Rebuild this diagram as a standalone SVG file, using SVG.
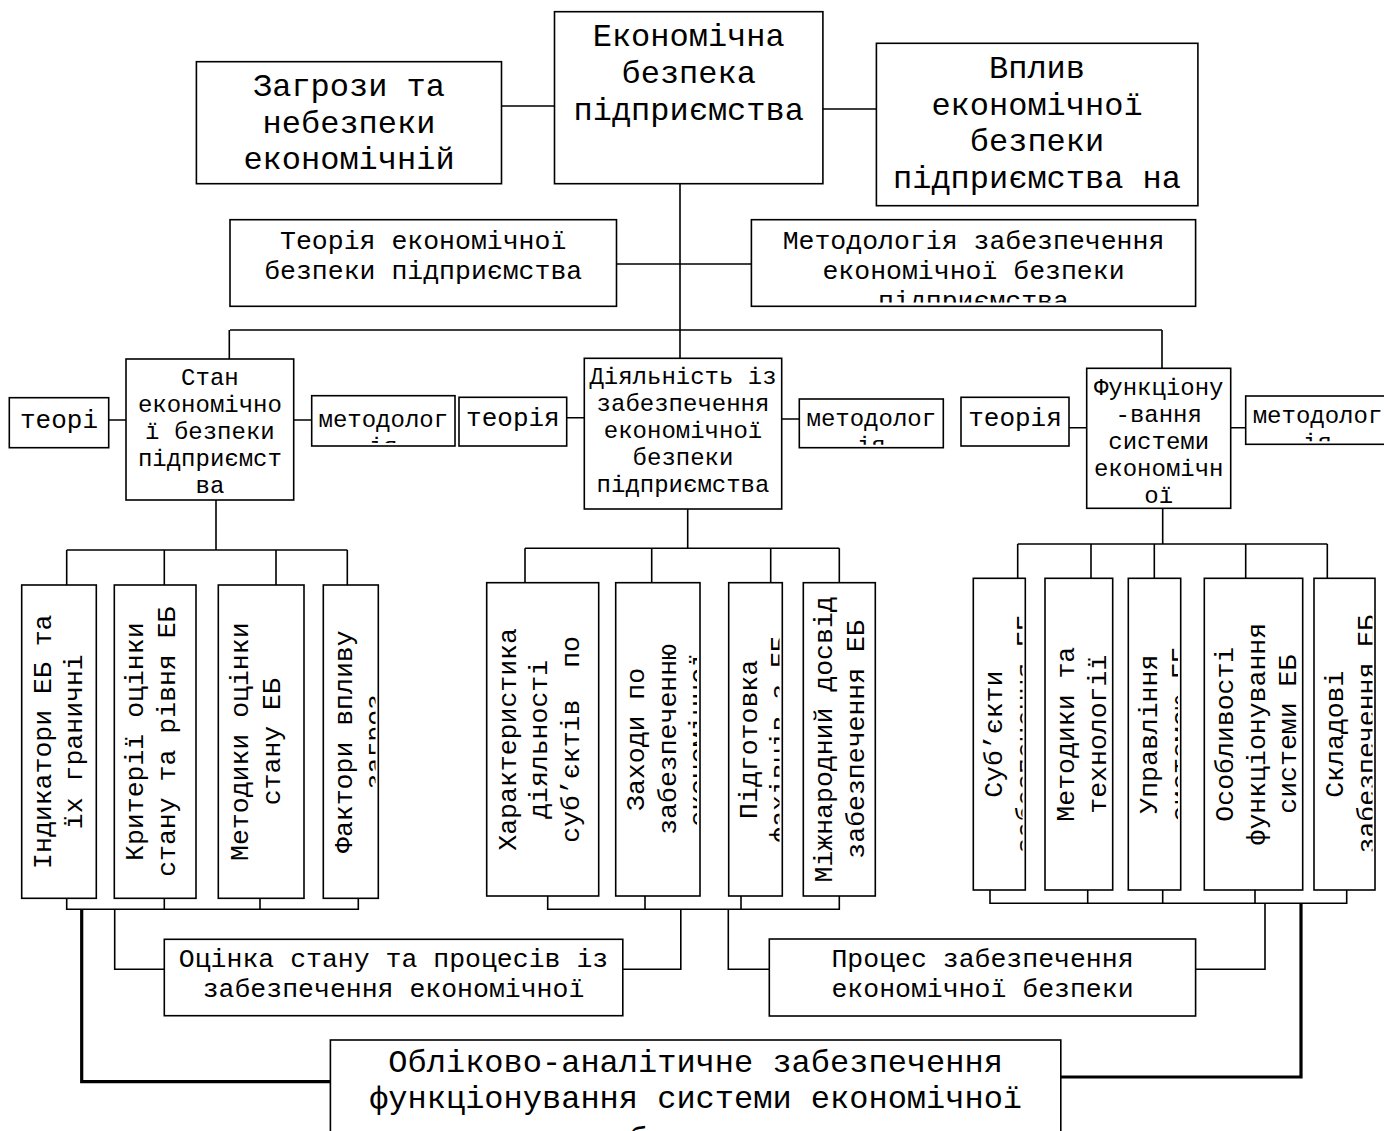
<svg xmlns="http://www.w3.org/2000/svg" width="1384" height="1131" viewBox="0 0 1384 1131">
<style>
.box{fill:#fff;stroke:#000;stroke-width:1.6}
.ln{fill:none;stroke:#000;stroke-width:1.6}
.thick{stroke-width:3.2}
.t{font-family:"Liberation Mono","DejaVu Sans Mono",monospace;fill:#000;text-anchor:middle}
.f32{font-size:32px}
.f26{font-size:26.5px}
.f25{font-size:26px}
.f24{font-size:24px}
</style>
<defs>
<clipPath id="c-method"><rect x="751" y="219" width="445" height="83.5"/></clipPath>
<clipPath id="c-me1"><rect x="311" y="395" width="145" height="48"/></clipPath>
<clipPath id="c-me2"><rect x="799" y="398" width="145" height="46.7"/></clipPath>
<clipPath id="c-me3"><rect x="1245" y="395" width="145" height="46.3"/></clipPath>
<clipPath id="c-b4"><rect x="323" y="585" width="52.5" height="314"/></clipPath>
<clipPath id="c-mb"><rect x="615" y="582" width="82" height="314"/></clipPath>
<clipPath id="c-mc"><rect x="728" y="582" width="51.5" height="314"/></clipPath>
<clipPath id="c-r1"><rect x="973" y="578" width="49.5" height="312"/></clipPath>
<clipPath id="c-r3"><rect x="1128" y="578" width="50" height="312"/></clipPath>
<clipPath id="c-r5"><rect x="1314" y="578" width="58.5" height="312"/></clipPath>
<clipPath id="c-acc"><rect x="330" y="1040" width="731" height="91"/></clipPath>
</defs>

<g id="connectors">
<path class="ln" d="M501.5,106H554.5M822.9,109H876.4M680,183.7V358.3M616.5,264H751.4M230,330H1162M229.3,330V359M1162,330V368.3"/>
<path class="ln" d="M108.7,420H126M293.7,420H311.7M566.7,417.7H584.3M781.7,419H799.3M1069,427.7H1086.7M1230.7,427.7H1245.7"/>
<path class="ln" d="M216,500V550M66.7,550H347.3M66.7,550V585M164.3,550V585M276,550V585M347.3,550V585M66.7,898.3V909.3H358.3V898.3M164.3,898.3V909.3M260,898.3V909.3"/>
<path class="ln" d="M687.7,509V548.3M525,548.3H839.3M525,548.3V582.7M651.7,548.3V582.7M770.7,548.3V582.7M839.3,548.3V582.7M547.7,896V909.3H839.3V896M645,896V909.3M741,896V909.3"/>
<path class="ln" d="M1162.7,508.3V544M1017.7,544H1327.3M1017.7,544V578.3M1091,544V578.3M1154.3,544V578.3M1245.7,544V578.3M1327.3,544V578.3M990,890V903.3H1346.7V890M1087.7,890V903.3M1162.7,890V903.3M1255,890V903.3"/>
<path class="ln" d="M114.7,909.3V969.3H164.3M680.8,909.3V969.3H622.8M728.3,909.3V969.3H769.3M1265,903.3V969.3H1195.6"/>
<path class="ln thick" d="M81.7,909.3V1081.7H330.4M1301,903.3V1077H1060.8"/>
</g>

<g id="n-center">
<rect class="box" x="554.5" y="11.7" width="268.4" height="172"/>
<text class="t f32"><tspan x="688.7" y="45.5">Економічна</tspan><tspan x="688.7" y="82.5">безпека</tspan><tspan x="688.7" y="119.5">підприємства</tspan></text>
</g>
<g id="n-threats">
<rect class="box" x="196.4" y="61.7" width="305.1" height="122"/>
<text class="t f32"><tspan x="349" y="95.5">Загрози та</tspan><tspan x="349" y="132.5">небезпеки</tspan><tspan x="349" y="168.5">економічній</tspan></text>
</g>
<g id="n-impact">
<rect class="box" x="876.4" y="43.3" width="321.5" height="162.4"/>
<text class="t f32"><tspan x="1037" y="77.5">Вплив</tspan><tspan x="1037" y="114.5">економічної</tspan><tspan x="1037" y="150.5">безпеки</tspan><tspan x="1037" y="187.5">підприємства на</tspan></text>
</g>
<g id="n-theory">
<rect class="box" x="230" y="219.7" width="386.5" height="86.6"/>
<text class="t f26"><tspan x="423.2" y="248.5">Теорія економічної</tspan><tspan x="423.2" y="278.5">безпеки підприємства</tspan></text>
</g>
<g id="n-method">
<rect class="box" x="751.4" y="219.7" width="444.2" height="86.6"/>
<g clip-path="url(#c-method)"><text class="t f26"><tspan x="973.5" y="248.5">Методологія забезпечення</tspan><tspan x="973.5" y="278.5">економічної безпеки</tspan><tspan x="973.5" y="308.5">підприємства</tspan></text></g>
</g>

<g id="n-state-theory">
<rect class="box" x="9.3" y="397.7" width="99.4" height="50"/>
<text class="t f25" x="59" y="427.5">теорі</text>
</g>
<g id="n-state">
<rect class="box" x="126" y="359" width="167.7" height="141"/>
<text class="t f24"><tspan x="209.9" y="385">Стан</tspan><tspan x="209.9" y="412">економічно</tspan><tspan x="209.9" y="439">ї безпеки</tspan><tspan x="209.9" y="466">підприємст</tspan><tspan x="209.9" y="493">ва</tspan></text>
</g>
<g id="n-state-method">
<rect class="box" x="311.7" y="395.7" width="143.3" height="50.3"/>
<g clip-path="url(#c-me1)"><text class="t f24"><tspan x="383.3" y="427.3">методолог</tspan><tspan x="383.3" y="454.3">ія</tspan></text></g>
</g>
<g id="n-act-theory">
<rect class="box" x="459" y="397.3" width="107.7" height="48.7"/>
<text class="t f25" x="512.9" y="426">теорія</text>
</g>
<g id="n-act">
<rect class="box" x="584.3" y="358.3" width="197.4" height="150.7"/>
<text class="t f24"><tspan x="683" y="384.3">Діяльність із</tspan><tspan x="683" y="411.3">забезпечення</tspan><tspan x="683" y="438.3">економічної</tspan><tspan x="683" y="465.3">безпеки</tspan><tspan x="683" y="492.3">підприємства</tspan></text>
</g>
<g id="n-act-method">
<rect class="box" x="799.3" y="399" width="144" height="48.7"/>
<g clip-path="url(#c-me2)"><text class="t f24"><tspan x="871.3" y="425.7">методолог</tspan><tspan x="871.3" y="452.7">ія</tspan></text></g>
</g>
<g id="n-func-theory">
<rect class="box" x="961" y="397.3" width="108" height="48.7"/>
<text class="t f25" x="1015" y="426">теорія</text>
</g>
<g id="n-func">
<rect class="box" x="1086.7" y="368.3" width="144" height="140"/>
<text class="t f24"><tspan x="1158.7" y="395">Функціону</tspan><tspan x="1158.7" y="422">-вання</tspan><tspan x="1158.7" y="449">системи</tspan><tspan x="1158.7" y="476">економічн</tspan><tspan x="1158.7" y="503">ої</tspan></text>
</g>
<g id="n-func-method">
<rect class="box" x="1245.7" y="396" width="143.6" height="48.3"/>
<g clip-path="url(#c-me3)"><text class="t f24"><tspan x="1317.5" y="423.3">методолог</tspan><tspan x="1317.5" y="450.3">ія</tspan></text></g>
</g>

<g id="n-indicators">
<rect class="box" x="21.7" y="585" width="74.6" height="313.3"/>
<text class="t f26" transform="translate(50.5,741.7) rotate(-90)"><tspan x="0" y="0">Індикатори ЕБ та</tspan><tspan x="0" y="31.3">їх граничні</tspan></text>
</g>
<g id="n-criteria">
<rect class="box" x="114.3" y="585" width="81.7" height="313.3"/>
<text class="t f26" transform="translate(143.3,741.7) rotate(-90)"><tspan x="0" y="0">Критерії оцінки</tspan><tspan x="0" y="31.3">стану та рівня ЕБ</tspan></text>
</g>
<g id="n-methods">
<rect class="box" x="218.3" y="585" width="85.7" height="313.3"/>
<text class="t f26" transform="translate(247.8,741.7) rotate(-90)"><tspan x="0" y="0">Методики оцінки</tspan><tspan x="0" y="32">стану ЕБ</tspan></text>
</g>
<g id="n-factors">
<rect class="box" x="323.3" y="585" width="55" height="313.3"/>
<g clip-path="url(#c-b4)"><text class="t f26" transform="translate(352,741.7) rotate(-90)"><tspan x="0" y="0">Фактори впливу</tspan><tspan x="0" y="31.3">загроз</tspan></text></g>
</g>

<g id="n-character">
<rect class="box" x="486.7" y="582.7" width="112" height="313.3"/>
<text class="t f26" transform="translate(515.5,739.4) rotate(-90)" xml:space="preserve"><tspan x="0" y="0">Характеристика</tspan><tspan x="0" y="31.5">діяльності</tspan><tspan x="0" y="63">суб’єктів  по</tspan></text>
</g>
<g id="n-measures">
<rect class="box" x="615.7" y="582.7" width="84.3" height="313.3"/>
<g clip-path="url(#c-mb)"><text class="t f26" transform="translate(644,739.4) rotate(-90)"><tspan x="0" y="0">Заходи по</tspan><tspan x="0" y="31.5">забезпеченню</tspan><tspan x="0" y="63">економічної</tspan></text></g>
</g>
<g id="n-training">
<rect class="box" x="728.7" y="582.7" width="53.6" height="313.3"/>
<g clip-path="url(#c-mc)"><text class="t f26" transform="translate(756.5,739.4) rotate(-90)"><tspan x="0" y="0">Підготовка</tspan><tspan x="0" y="31.5">фахівців з ЕБ</tspan></text></g>
</g>
<g id="n-intl">
<rect class="box" x="803.3" y="582.7" width="72" height="313.3"/>
<text class="t f26" transform="translate(832,739.4) rotate(-90)"><tspan x="0" y="0">Міжнародний досвід</tspan><tspan x="0" y="31.5">забезпечення ЕБ</tspan></text>
</g>

<g id="n-subjects">
<rect class="box" x="973.3" y="578.3" width="52" height="311.7"/>
<g clip-path="url(#c-r1)"><text class="t f26" transform="translate(1002,734.2) rotate(-90)"><tspan x="0" y="0">Суб’єкти</tspan><tspan x="0" y="31.5">забезпечення ЕБ</tspan></text></g>
</g>
<g id="n-tech">
<rect class="box" x="1045" y="578.3" width="67.7" height="311.7"/>
<text class="t f26" transform="translate(1074,734.2) rotate(-90)"><tspan x="0" y="0">Методики та</tspan><tspan x="0" y="31.5">технології</tspan></text>
</g>
<g id="n-management">
<rect class="box" x="1128.3" y="578.3" width="52.4" height="311.7"/>
<g clip-path="url(#c-r3)"><text class="t f26" transform="translate(1157,734.2) rotate(-90)"><tspan x="0" y="0">Управління</tspan><tspan x="0" y="31.5">системою ЕБ</tspan></text></g>
</g>
<g id="n-features">
<rect class="box" x="1204.3" y="578.3" width="98.4" height="311.7"/>
<text class="t f26" transform="translate(1233,734.2) rotate(-90)"><tspan x="0" y="0">Особливості</tspan><tspan x="0" y="31.5">функціонування</tspan><tspan x="0" y="63">системи ЕБ</tspan></text>
</g>
<g id="n-components">
<rect class="box" x="1314" y="578.3" width="61" height="311.7"/>
<g clip-path="url(#c-r5)"><text class="t f26" transform="translate(1343,734.2) rotate(-90)"><tspan x="0" y="0">Складові</tspan><tspan x="0" y="31.5">забезпечення ЕБ</tspan></text></g>
</g>

<g id="n-assessment">
<rect class="box" x="164.3" y="939.3" width="458.5" height="76.4"/>
<text class="t f26"><tspan x="393.5" y="967.3">Оцінка стану та процесів із</tspan><tspan x="393.5" y="996.8">забезпечення економічної</tspan></text>
</g>
<g id="n-process">
<rect class="box" x="769.3" y="939" width="426.3" height="77"/>
<text class="t f26"><tspan x="982.5" y="967.3">Процес забезпечення</tspan><tspan x="982.5" y="996.8">економічної безпеки</tspan></text>
</g>
<g id="n-accounting">
<rect class="box" x="330.4" y="1040" width="730.4" height="120"/>
<g clip-path="url(#c-acc)"><text class="t f32"><tspan x="695.6" y="1071.7">Обліково-аналітичне забезпечення</tspan><tspan x="695.6" y="1108.4">функціонування системи економічної</tspan><tspan x="695.6" y="1149">безпеки</tspan></text></g>
</g>
</svg>
